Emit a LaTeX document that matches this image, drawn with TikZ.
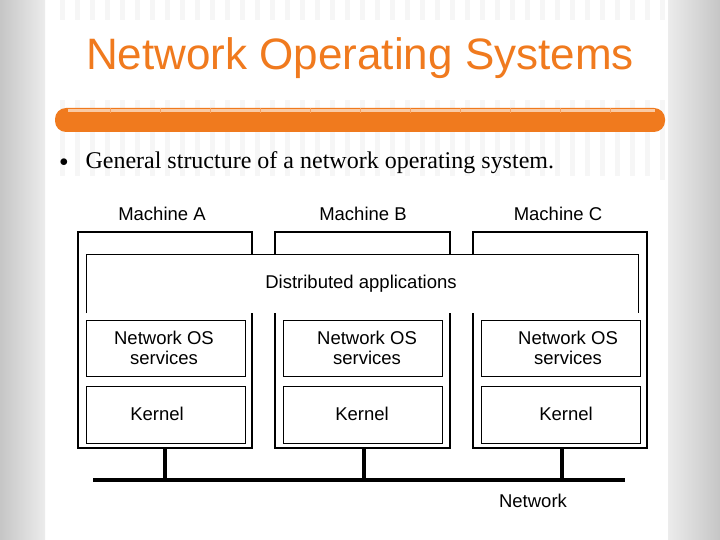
\documentclass[tikz,border=0pt]{standalone}
\usepackage{fontspec}
\setmainfont{Liberation Sans}
\newfontfamily\serifface{Liberation Serif}
\begin{document}
\begin{tikzpicture}[x=1pt,y=-1pt,
  outer/.style={draw=black,line width=2.6pt},
  inner/.style={draw=black,line width=0.7pt,fill=white},
  lbl/.style={font=\fontsize{18.5}{21}\selectfont,align=center},
  net/.style={line width=3.5pt}]
\definecolor{org}{HTML}{F07A1E}
\useasboundingbox (0,0) rectangle (720,540);
\fill[white] (0,0) rectangle (720,540);
% side bars
\shade[left color=gray!45,right color=gray!15] (0,0) rectangle (45,540);
\shade[left color=gray!15,right color=gray!45] (668,0) rectangle (720,540);
\foreach \x in {60,75,...,660} \fill[gray!7] (\x,0) rectangle (\x+5,180);
\fill[white] (50,20) rectangle (665,100);
% title
\node[text=org,font=\fontsize{44}{48}\selectfont] (title) at (360,58) {Network Operating Systems};
\fill[org,rounded corners=11pt] (55,108) rectangle (665,132);
\fill[white!60!org] (68,109) rectangle (655,112);
\foreach \x in {110,160,...,650} \draw[org!70!white] (\x,108) -- (\x,113);
% bullet
\node[font=\serifface\fontsize{18}{20}\selectfont] (dot) at (64,163) {$\bullet$};
\node[anchor=west,font=\serifface\fontsize{24}{26}\selectfont] (bul) at (82,163) {General structure of a network operating system.};
% diagram area
\fill[white] (57,176) rectangle (655,522);
\node[lbl] (ma) at (162,214) {Machine A};
\node[lbl] (mb) at (363,214) {Machine B};
\node[lbl] (mc) at (558,214) {Machine C};
\draw[outer] (78,232) rectangle (252,448);
\draw[outer] (275,232) rectangle (450,448);
\draw[outer] (473,232) rectangle (647,448);
\fill[white] (86,254) rectangle (638,313);
\draw[line width=0.7pt] (86,313) -- (86,254) -- (638,254) -- (638,313);
\node[lbl] (da) at (361,284) {Distributed applications};
\foreach \x/\n in {86/a,283/b,481/c}{
  \draw[inner] (\x,320) rectangle (\x+159,376);
  \draw[inner] (\x,386) rectangle (\x+159,443);
}
\node[lbl] (na) at (164,348) {Network OS\\[-1pt]services};
\node[lbl] (nb) at (367,348) {Network OS\\[-1pt]services};
\node[lbl] (nc) at (568,348) {Network OS\\[-1pt]services};
\node[lbl] (ka) at (157,414) {Kernel};
\node[lbl] (kb) at (362,414) {Kernel};
\node[lbl] (kc) at (566,414) {Kernel};
\coordinate (nl) at (93,480);
\coordinate (nr) at (625,480);
\draw[net] (nl) -- (nr);
\foreach \x in {165,364,562} \draw[net] (\x,449) -- (\x,480);
\node[lbl] (nw) at (533,501) {Network};
\end{tikzpicture}
\end{document}
